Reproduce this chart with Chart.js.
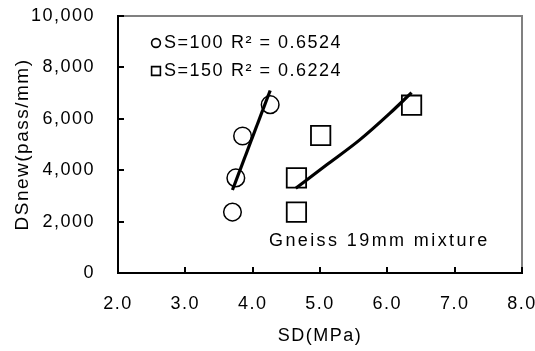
<!DOCTYPE html>
<html>
<head>
<meta charset="utf-8">
<script src="https://cdn.jsdelivr.net/npm/chart.js@4.4.0/dist/chart.umd.min.js"></script>
<style>
  body { margin: 0; background: #fff; }
  canvas { display: block; }
</style>
</head>
<body>
<canvas id="chart" width="535" height="351"></canvas>
<script>
// values
const s100X = [3.70, 3.75, 3.85, 4.26];
const s100Y = [2370, 3700, 5330, 6550];
const s150X = [4.65, 4.65, 5.01, 6.36];
const s150Y = [2370, 3700, 5350, 6530];

// fitted curves
const trend100X = [3.70, 4.26];
const trend100Y = [3230, 7100];
const trend150X = [4.64, 5.10, 5.59, 6.04, 6.36];
const trend150Y = [3300, 4210, 5180, 6220, 7020];

const seriesNames = ['S=100', 'S=150'];
const r2Labels = ['R\u00B2 = 0.6524', 'R\u00B2 = 0.6224'];
const noteText = 'Gneiss 19mm mixture';
const xTitle = 'SD(MPa)';
const yTitle = 'DSnew(pass/mm)';

const FONT = "'Liberation Sans', Arial, sans-serif";
const SPACING = '1.5px';

function toPoints(xs, ys) {
    return xs.map((x, i) => ({ x: x, y: ys[i] }))
}

// keep the plot box where the picture has it
function noScalePadding(s) {
    s.paddingTop = 0
    s.paddingBottom = 0
    s.paddingLeft = 0
    s.paddingRight = 0
}

const spacingPlugin = {
    id: 'spacing',
    beforeLayout(chart) { chart.ctx.letterSpacing = SPACING },
    beforeDraw(chart) { chart.ctx.letterSpacing = SPACING }
};

const decorPlugin = {
    id: 'decor',
    afterDraw(chart) {
        const ctx = chart.ctx
        const a = chart.chartArea
        const xs = chart.scales.x
        const ys = chart.scales.y
        ctx.save()
        // gray top / right frame
        ctx.strokeStyle = '#808080'
        ctx.lineWidth = 2
        ctx.beginPath()
        ctx.moveTo(a.left, a.top)
        ctx.lineTo(a.right, a.top)
        ctx.lineTo(a.right, a.bottom)
        ctx.stroke()
        // inside tick marks
        ctx.strokeStyle = '#000'
        ctx.lineWidth = 2
        ctx.beginPath()
        xs.ticks.forEach(t => {
            const px = Math.round(xs.getPixelForValue(t.value))
            ctx.moveTo(px, a.bottom)
            ctx.lineTo(px, a.bottom - 6)
        })
        ys.ticks.forEach(t => {
            const py = Math.round(ys.getPixelForValue(t.value))
            ctx.moveTo(a.left, py)
            ctx.lineTo(a.left + 6, py)
        })
        ctx.stroke()

        // legend text block
        ctx.font = '18px ' + FONT
        ctx.letterSpacing = SPACING
        ctx.fillStyle = '#000'
        ctx.textBaseline = 'middle'
        ctx.lineWidth = 1.6
        const rows = [43, 71]
        rows.forEach((y, i) => {
            const mx = a.left + 38
            ctx.beginPath()
            if (i === 0) {
                ctx.arc(mx, y, 4.4, 0, Math.PI * 2)
            } else {
                ctx.rect(mx - 4.4, y - 4.4, 8.8, 8.8)
            }
            ctx.stroke()
            ctx.fillText(seriesNames[i], a.left + 46, y)
            ctx.fillText(r2Labels[i], a.left + 113, y)
        })
        ctx.letterSpacing = '2.4px'
        ctx.fillText(noteText, a.left + 151, 241)
        ctx.restore()
    }
};

new Chart(document.getElementById('chart'), {
    type: 'scatter',
    data: {
        datasets: [{
            label: seriesNames[0],
            data: toPoints(s100X, s100Y),
            pointStyle: 'circle',
            pointRadius: 8.8,
            pointHoverRadius: 8.8,
            borderColor: '#000',
            backgroundColor: 'rgba(255,255,255,0)',
            borderWidth: 1.5
        }, {
            label: seriesNames[1],
            data: toPoints(s150X, s150Y),
            pointStyle: 'rect',
            pointRadius: 13.7,
            pointHoverRadius: 13.7,
            borderColor: '#000',
            backgroundColor: 'rgba(255,255,255,0)',
            borderWidth: 1.8
        }, {
            label: 'fit 100',
            data: toPoints(trend100X, trend100Y),
            showLine: true,
            pointRadius: 0,
            borderColor: '#000',
            borderWidth: 3.2
        }, {
            label: 'fit 150',
            data: toPoints(trend150X, trend150Y),
            showLine: true,
            cubicInterpolationMode: 'monotone',
            pointRadius: 0,
            borderColor: '#000',
            borderWidth: 3.2
        }]
    },
    options: {
        responsive: false,
        devicePixelRatio: 1,
        animation: false,
        layout: {
            padding: { top: 16, right: 13, bottom: 0, left: 0 },
            autoPadding: false
        },
        plugins: {
            legend: { display: false },
            tooltip: { enabled: false }
        },
        scales: {
            x: {
                type: 'linear',
                min: 2,
                max: 8,
                ticks: {
                    stepSize: 1,
                    color: '#000',
                    font: { family: FONT, size: 18 },
                    padding: 20,
                    callback: v => v.toFixed(1)
                },
                grid: { display: false, drawTicks: false },
                border: { display: true, color: '#000', width: 2 },
                title: {
                    display: true,
                    text: xTitle,
                    color: '#000',
                    font: { family: FONT, size: 18 },
                    padding: { top: 0, bottom: 4 }
                },
                afterFit: s => { s.height = 78; noScalePadding(s) }
            },
            y: {
                type: 'linear',
                min: 0,
                max: 10000,
                ticks: {
                    stepSize: 2000,
                    color: '#000',
                    font: { family: FONT, size: 18 },
                    padding: 23,
                    callback: v => v.toLocaleString('en-US')
                },
                grid: { display: false, drawTicks: false },
                border: { display: true, color: '#000', width: 2 },
                title: {
                    display: true,
                    text: yTitle,
                    color: '#000',
                    font: { family: FONT, size: 19 },
                    padding: { top: 11, bottom: 0 }
                },
                afterFit: s => { s.width = 118; noScalePadding(s) }
            }
        }
    },
    plugins: [spacingPlugin, decorPlugin]
});
</script>
</body>
</html>
